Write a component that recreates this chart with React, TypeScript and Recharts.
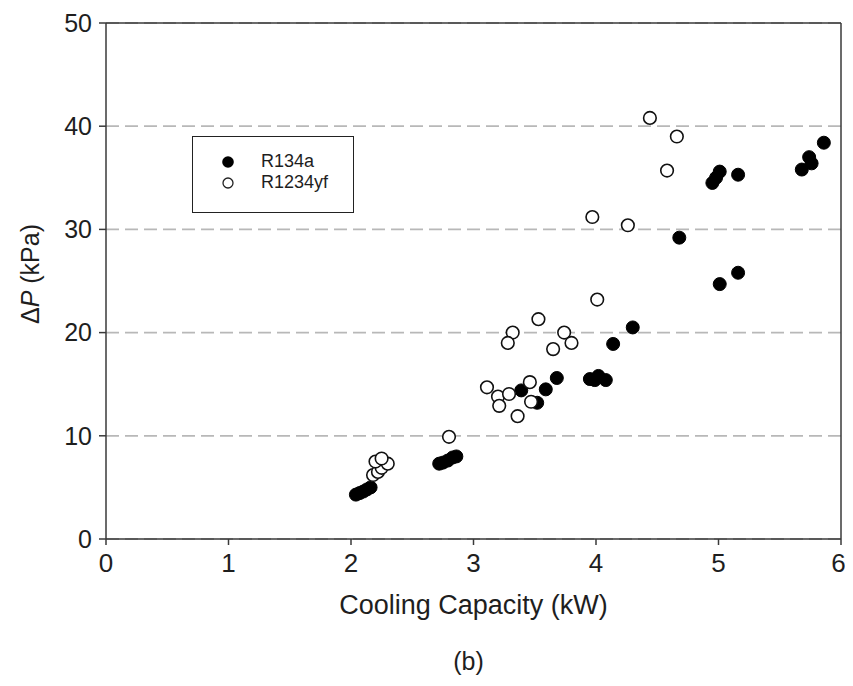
import React from 'react';
import {
  ScatterChart,
  Scatter,
  XAxis,
  YAxis,
  CartesianGrid,
  ReferenceLine,
  Label,
} from 'recharts';

// R134a (filled markers): cooling capacity in kW, pressure drop in kPa
const r134aCapacity = [
  2.04, 2.07, 2.1, 2.13, 2.16,
  2.72, 2.75, 2.79, 2.83, 2.86,
  3.39, 3.52, 3.59, 3.68,
  3.95, 3.99, 4.02, 4.08,
  4.14, 4.3, 4.68, 5.01, 5.16,
  4.95, 4.98, 5.01, 5.16,
  5.68, 5.74, 5.76, 5.86,
];
const r134aDeltaP = [
  4.3, 4.45, 4.6, 4.8, 5.0,
  7.3, 7.4, 7.6, 7.9, 8.0,
  14.4, 13.2, 14.5, 15.6,
  15.5, 15.4, 15.8, 15.4,
  18.9, 20.5, 29.2, 24.7, 25.8,
  34.5, 35.0, 35.6, 35.3,
  35.8, 37.0, 36.4, 38.4,
];

// R1234yf (open markers)
const r1234yfCapacity = [
  2.18, 2.22, 2.25, 2.2, 2.3, 2.25,
  2.8,
  3.11, 3.2, 3.21, 3.29, 3.36, 3.46, 3.47,
  3.32, 3.28, 3.53, 3.74, 3.8, 3.65,
  4.01, 3.97, 4.26,
  4.44, 4.66, 4.58,
];
const r1234yfDeltaP = [
  6.2, 6.5, 6.9, 7.5, 7.3, 7.8,
  9.9,
  14.7, 13.8, 12.9, 14.05, 11.9, 15.2, 13.3,
  20.0, 19.0, 21.3, 20.0, 19.0, 18.4,
  23.2, 31.2, 30.4,
  40.8, 39.0, 35.7,
];

const xTicks = [0, 1, 2, 3, 4, 5, 6];
const yTicks = [0, 10, 20, 30, 40, 50];

const r134aData = r134aCapacity.map((x, i) => ({ x, y: r134aDeltaP[i] }));
const r1234yfData = r1234yfCapacity.map((x, i) => ({ x, y: r1234yfDeltaP[i] }));

const FONT = '"Liberation Sans", Arial, sans-serif';
const AXIS = '#3a3a3a';
const INK = '#1e1e1e';

const FilledDot = (props: any) => (
  <circle cx={props.cx} cy={props.cy} r={6.5} fill="#000" stroke="#000" strokeWidth={1} />
);

const OpenDot = (props: any) => (
  <circle cx={props.cx} cy={props.cy} r={6.3} fill="#fff" stroke="#111" strokeWidth={1.6} />
);

const XTitle = (props: any) => {
  const vb = props.viewBox || { x: 98, y: 531, width: 735, height: 139 };
  const cx = vb.x + vb.width / 2;
  return (
    <g fontFamily={FONT} fill={INK}>
      <text x={cx} y={vb.y + 75} textAnchor="middle" fontSize={27}>
        Cooling Capacity (kW)
      </text>
      <text x={cx - 5} y={vb.y + 131} textAnchor="middle" fontSize={25}>
        (b)
      </text>
    </g>
  );
};

const YTitle = () => (
  <text
    x={22}
    y={266}
    transform="rotate(-90 22 266)"
    textAnchor="middle"
    dominantBaseline="central"
    fontFamily={FONT}
    fontSize={25}
    fill={INK}
  >
    Δ<tspan fontStyle="italic">P</tspan> (kPa)
  </text>
);

const LegendBox = () => (
  <div
    style={{
      position: 'absolute',
      left: 184,
      top: 128,
      width: 162,
      height: 77,
      border: '1.5px solid #222',
      background: '#fff',
      boxSizing: 'border-box',
      fontFamily: FONT,
      fontSize: 18,
      color: INK,
      paddingTop: 14,
      paddingLeft: 28,
    }}
  >
    <div style={{ display: 'flex', alignItems: 'center', height: 21 }}>
      <svg width={14} height={14}>
        <circle cx={7} cy={7} r={5.8} fill="#000" />
      </svg>
      <span style={{ marginLeft: 26 }}>R134a</span>
    </div>
    <div style={{ display: 'flex', alignItems: 'center', height: 21 }}>
      <svg width={14} height={14}>
        <circle cx={7} cy={7} r={5} fill="#fff" stroke="#222" strokeWidth={1.3} />
      </svg>
      <span style={{ marginLeft: 26 }}>R1234yf</span>
    </div>
  </div>
);

export default function App() {
  return (
    <div style={{ position: 'relative', width: 837, height: 670, background: '#fff' }}>
      <ScatterChart
        width={837}
        height={670}
        margin={{ top: 15, right: 4, left: 0, bottom: 0 }}
      >
        <CartesianGrid
          horizontal={true}
          vertical={false}
          stroke="#b8b8b8"
          strokeWidth={1.8}
          strokeDasharray="13 6"
        />
        <XAxis
          type="number"
          dataKey="x"
          domain={[0, 6]}
          ticks={xTicks}
          height={139}
          stroke={AXIS}
          strokeWidth={1.5}
          tickSize={6}
          tickMargin={9}
          tick={{ fontFamily: FONT, fontSize: 26, fill: INK }}
        >
          <Label content={<XTitle />} />
        </XAxis>
        <YAxis
          type="number"
          dataKey="y"
          domain={[0, 50]}
          ticks={yTicks}
          width={98}
          stroke={AXIS}
          strokeWidth={1.5}
          tickSize={7}
          tickMargin={7}
          tick={{ fontFamily: FONT, fontSize: 25, fill: INK }}
        >
          <Label content={<YTitle />} />
        </YAxis>
        <ReferenceLine y={50} stroke={AXIS} strokeWidth={1.5} />
        <ReferenceLine x={6} stroke={AXIS} strokeWidth={1.5} />
        <Scatter
          name="R134a"
          data={r134aData}
          shape={<FilledDot />}
          isAnimationActive={false}
        />
        <Scatter
          name="R1234yf"
          data={r1234yfData}
          shape={<OpenDot />}
          isAnimationActive={false}
        />
      </ScatterChart>
      <LegendBox />
    </div>
  );
}
